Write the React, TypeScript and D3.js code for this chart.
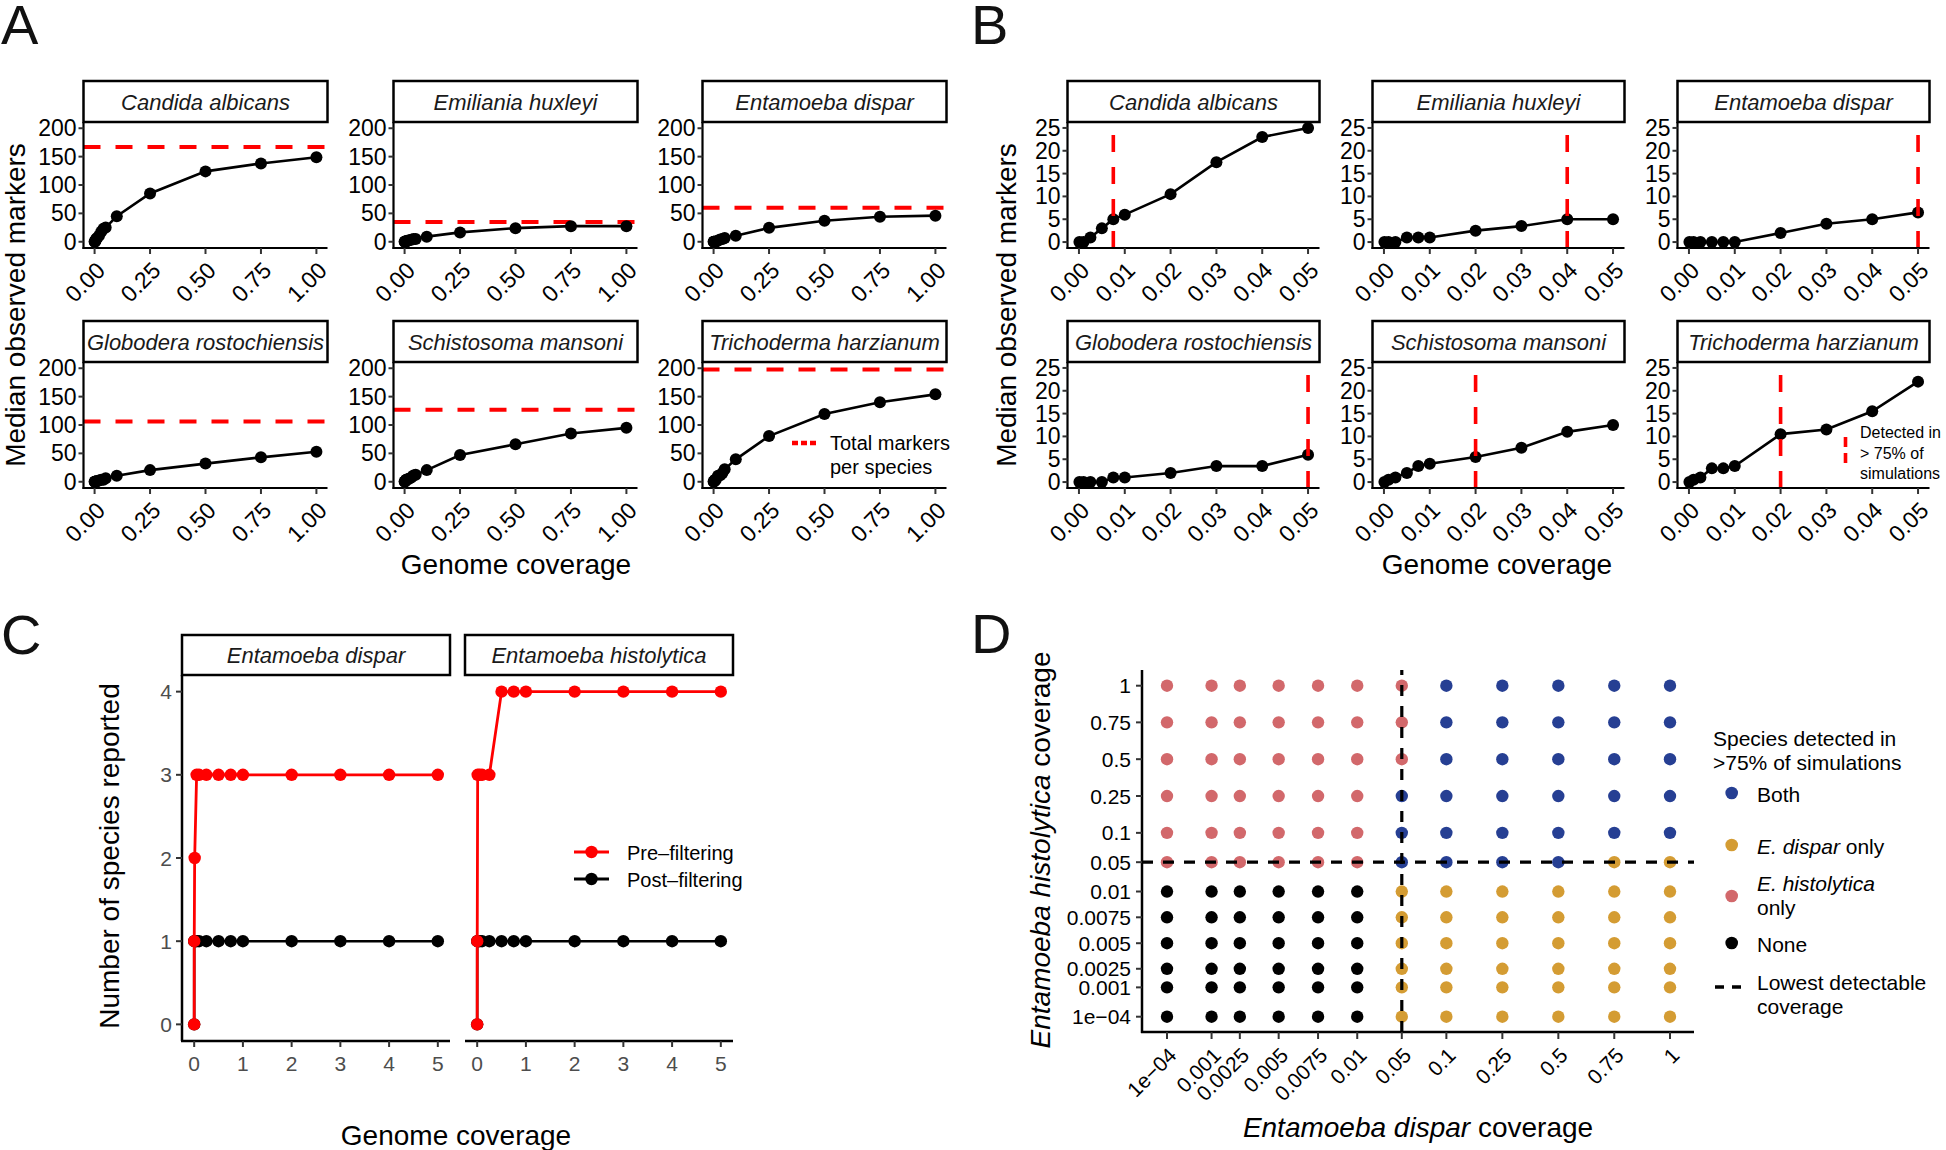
import React from "react";
import * as d3 from "d3";

const FONT = "'Liberation Sans', Arial, Helvetica, sans-serif";

// ---------- Panels A & B data ----------
const speciesNames = [
  "Candida albicans",
  "Emiliania huxleyi",
  "Entamoeba dispar",
  "Globodera rostochiensis",
  "Schistosoma mansoni",
  "Trichoderma harzianum",
];
const coverageLevels = [0.0001, 0.001, 0.0025, 0.005, 0.0075, 0.01, 0.02, 0.03, 0.04, 0.05, 0.1, 0.25, 0.5, 0.75, 1];
const candidaMarkers = [0, 0, 1, 3, 5, 6, 10.5, 17.5, 23, 25, 45, 85, 124, 138, 149];
const emilianiaMarkers = [0, 0, 0, 1, 1, 1, 2.5, 3.5, 5, 5, 9, 16.5, 24, 27.5, 27.5];
const disparMarkers = [0, 0, 0, 0, 0, 0, 2, 4, 5, 6.5, 10.5, 24.5, 37, 44, 46];
const globoderaMarkers = [0, 0, 0, 0, 1, 1, 2, 3.5, 3.5, 6, 10.5, 20.5, 32, 43, 53];
const schistosomaMarkers = [0, 0.5, 1, 2, 3.5, 4, 5.5, 7.5, 11, 12.5, 20.5, 47, 66, 85, 95];
const trichodermaMarkers = [0, 0.5, 1, 3, 3, 3.5, 10.5, 11.5, 15.5, 22, 39.5, 80.5, 119.5, 140, 154];
const markersBySpecies = [candidaMarkers, emilianiaMarkers, disparMarkers, globoderaMarkers, schistosomaMarkers, trichodermaMarkers];
const totalMarkers = [167, 35, 60, 106, 127, 198];
const detectionCoverage = [0.0075, 0.04, 0.05, 0.05, 0.02, 0.02];

const aYTicks = [0, 50, 100, 150, 200];
const aXTicks = [0, 0.25, 0.5, 0.75, 1];
const aXTickLabels = ["0.00", "0.25", "0.50", "0.75", "1.00"];
const bYTicks = [0, 5, 10, 15, 20, 25];
const bXTicks = [0, 0.01, 0.02, 0.03, 0.04, 0.05];
const bXTickLabels = ["0.00", "0.01", "0.02", "0.03", "0.04", "0.05"];

// ---------- Panel C data ----------
const cSpecies = ["Entamoeba dispar", "Entamoeba histolytica"];
const cCoverage = [0, 0.001, 0.01, 0.05, 0.1, 0.25, 0.5, 0.75, 1, 2, 3, 4, 5];
const cPreDispar = [0, 1, 2, 3, 3, 3, 3, 3, 3, 3, 3, 3, 3];
const cPostDispar = [0, 1, 1, 1, 1, 1, 1, 1, 1, 1, 1, 1, 1];
const cPreHisto = [0, 1, 3, 3, 3, 3, 4, 4, 4, 4, 4, 4, 4];
const cPostHisto = [0, 1, 1, 1, 1, 1, 1, 1, 1, 1, 1, 1, 1];
const cXTicks = [0, 1, 2, 3, 4, 5];
const cYTicks = [0, 1, 2, 3, 4];
const cSeriesNames = ["Pre\u2013filtering", "Post\u2013filtering"];

// ---------- Panel D data ----------
const dLevels = [0.0001, 0.001, 0.0025, 0.005, 0.0075, 0.01, 0.05, 0.1, 0.25, 0.5, 0.75, 1];
const dLevelLabels = ["1e\u221204", "0.001", "0.0025", "0.005", "0.0075", "0.01", "0.05", "0.1", "0.25", "0.5", "0.75", "1"];
// one string per E. histolytica level (from 1e-04 up); one char per E. dispar level
const dStatusRows = [
  "NNNNNNDDDDDD",
  "NNNNNNDDDDDD",
  "NNNNNNDDDDDD",
  "NNNNNNDDDDDD",
  "NNNNNNDDDDDD",
  "NNNNNNDDDDDD",
  "HHHHHHBBBBDD",
  "HHHHHHBBBBBB",
  "HHHHHHBBBBBB",
  "HHHHHHHBBBBB",
  "HHHHHHHBBBBB",
  "HHHHHHHBBBBB",
];
const dLowestDetectable = 0.05;

// ---------- layout / style ----------
const RED = "#FF0000";
const statusColor: Record<string, string> = { B: "#263F93", D: "#D49C33", H: "#D2686B", N: "#000000" };
// axis position fractions of the custom coverage axis in panel D
const dAxisFrac = [0, 0.0886, 0.1448, 0.222, 0.3003, 0.3782, 0.4668, 0.5554, 0.6667, 0.778, 0.8892, 1];

type LPProps = {
  left: number; top: number; width: number; height: number; name: string;
  xs: number[]; ys: number[]; xDomain: [number, number]; yDomain: [number, number];
  xTicks: number[]; xTickLabels: string[]; yTicks: number[];
  hline?: number; vline?: number;
};

function LinePanel(p: LPProps) {
  const x = d3.scaleLinear().domain(p.xDomain).range([p.left, p.left + p.width]);
  const y = d3.scaleLinear().domain(p.yDomain).range([p.top + p.height, p.top]);
  const pts = p.xs.map((v, i) => [v, p.ys[i]] as [number, number]).filter((d) => d[0] <= p.xDomain[1]);
  const line = d3.line<[number, number]>().x((d) => x(d[0])).y((d) => y(d[1]));
  const bottom = p.top + p.height;
  return (
    <g>
      <rect x={p.left} y={p.top - 41} width={p.width} height={41} fill="white" stroke="black" strokeWidth={2.5} />
      <text x={p.left + p.width / 2} y={p.top - 20} textAnchor="middle" dominantBaseline="central"
        fontStyle="italic" fontSize={22} fill="#1a1a1a">{p.name}</text>
      {p.hline != null && (
        <line x1={p.left} x2={p.left + p.width} y1={y(p.hline)} y2={y(p.hline)} stroke={RED} strokeWidth={4} strokeDasharray="17 15" />
      )}
      <path d={line(pts) || ""} fill="none" stroke="black" strokeWidth={2.6} />
      {pts.map((d, i) => (
        <circle key={i} cx={x(d[0])} cy={y(d[1])} r={6} fill="black" />
      ))}
      {p.vline != null && (
        <line x1={x(p.vline)} x2={x(p.vline)} y1={bottom} y2={p.top} stroke={RED} strokeWidth={3.6} strokeDasharray="17 15" />
      )}
      <line x1={p.left} x2={p.left} y1={p.top} y2={bottom + 1} stroke="black" strokeWidth={2.2} />
      <line x1={p.left - 1} x2={p.left + p.width} y1={bottom} y2={bottom} stroke="black" strokeWidth={2.2} />
      {p.yTicks.map((t) => (
        <g key={t}>
          <line x1={p.left - 5} x2={p.left} y1={y(t)} y2={y(t)} stroke="#333" strokeWidth={2} />
          <text x={p.left - 7} y={y(t)} textAnchor="end" dominantBaseline="central" fontSize={23} fill="black">{t}</text>
        </g>
      ))}
      {p.xTicks.map((t, i) => (
        <g key={t}>
          <line x1={x(t)} x2={x(t)} y1={bottom} y2={bottom + 6} stroke="#333" strokeWidth={2} />
          <text transform={`translate(${x(t)},${bottom + 12}) rotate(-45)`} textAnchor="end" dominantBaseline="hanging"
            fontSize={23} fill="black">{p.xTickLabels[i]}</text>
        </g>
      ))}
    </g>
  );
}

type CPProps = { left: number; width: number; name: string; pre: number[]; post: number[]; showY: boolean };
const C_TOP = 675;
const C_BOTTOM = 1041;

function CPanel(p: CPProps) {
  const x = d3.scaleLinear().domain([-0.25, 5.25]).range([p.left, p.left + p.width]);
  const y = d3.scaleLinear().domain([-0.2, 4.2]).range([C_BOTTOM, C_TOP]);
  const line = d3.line<number>().x((_, i) => x(cCoverage[i])).y((d) => y(d));
  return (
    <g>
      <rect x={p.left} y={635} width={p.width} height={40} fill="white" stroke="black" strokeWidth={2.5} />
      <text x={p.left + p.width / 2} y={655} textAnchor="middle" dominantBaseline="central" fontStyle="italic" fontSize={22} fill="#1a1a1a">{p.name}</text>
      <path d={line(p.post) || ""} fill="none" stroke="black" strokeWidth={2.6} />
      {p.post.map((d, i) => <circle key={"b" + i} cx={x(cCoverage[i])} cy={y(d)} r={6.2} fill="black" />)}
      <path d={line(p.pre) || ""} fill="none" stroke={RED} strokeWidth={2.8} />
      {p.pre.map((d, i) => <circle key={"r" + i} cx={x(cCoverage[i])} cy={y(d)} r={6.2} fill={RED} />)}
      {p.showY && <line x1={p.left} x2={p.left} y1={C_TOP} y2={C_BOTTOM} stroke="black" strokeWidth={2.5} />}
      <line x1={p.left - (p.showY ? 1 : 0)} x2={p.left + p.width} y1={C_BOTTOM} y2={C_BOTTOM} stroke="black" strokeWidth={2.5} />
      {p.showY && cYTicks.map((t) => (
        <g key={t}>
          <line x1={p.left - 6} x2={p.left} y1={y(t)} y2={y(t)} stroke="#333" strokeWidth={2} />
          <text x={p.left - 10} y={y(t)} textAnchor="end" dominantBaseline="central" fontSize={21} fill="#4D4D4D">{t}</text>
        </g>
      ))}
      {cXTicks.map((t) => (
        <g key={t}>
          <line x1={x(t)} x2={x(t)} y1={C_BOTTOM} y2={C_BOTTOM + 6} stroke="#333" strokeWidth={2} />
          <text x={x(t)} y={C_BOTTOM + 22} textAnchor="middle" dominantBaseline="central" fontSize={21} fill="#4D4D4D">{t}</text>
        </g>
      ))}
    </g>
  );
}

function PanelD() {
  const left = 1142, right = 1694, top = 670, bottom = 1032;
  const x = d3.scaleLinear().domain(dLevels).range(dAxisFrac.map((f) => 1167 + f * (1670 - 1167)));
  const y = d3.scaleLinear().domain(dLevels).range(dAxisFrac.map((f) => 1016.7 - f * (1016.7 - 685.7)));
  const cells: { xv: number; yv: number; s: string }[] = [];
  dStatusRows.forEach((row, yi) => {
    row.split("").forEach((s, xi) => cells.push({ xv: dLevels[xi], yv: dLevels[yi], s }));
  });
  const legendItems = [
    { key: "B", y: 793, lines: [[{ t: "Both", i: false }]] },
    { key: "D", y: 845, lines: [[{ t: "E. dispar", i: true }, { t: " only", i: false }]] },
    { key: "H", y: 896, lines: [[{ t: "E. histolytica", i: true }], [{ t: "only", i: false }]] },
    { key: "N", y: 943, lines: [[{ t: "None", i: false }]] },
  ];
  return (
    <g>
      {cells.map((c, i) => (
        <circle key={i} cx={x(c.xv)} cy={y(c.yv)} r={6.2} fill={statusColor[c.s]} />
      ))}
      <line x1={x(dLowestDetectable)} x2={x(dLowestDetectable)} y1={bottom} y2={top} stroke="black" strokeWidth={3.2} strokeDasharray="11 10" />
      <line x1={left} x2={right} y1={y(dLowestDetectable)} y2={y(dLowestDetectable)} stroke="black" strokeWidth={3.2} strokeDasharray="11 10" />
      <line x1={left} x2={left} y1={top} y2={bottom + 1} stroke="black" strokeWidth={2.5} />
      <line x1={left - 1} x2={right} y1={bottom} y2={bottom} stroke="black" strokeWidth={2.5} />
      {dLevels.map((v, i) => (
        <g key={"y" + i}>
          <line x1={left - 6} x2={left} y1={y(v)} y2={y(v)} stroke="#333" strokeWidth={2} />
          <text x={left - 11} y={y(v)} textAnchor="end" dominantBaseline="central" fontSize={21} fill="black">{dLevelLabels[i]}</text>
        </g>
      ))}
      {dLevels.map((v, i) => (
        <g key={"x" + i}>
          <line x1={x(v)} x2={x(v)} y1={bottom} y2={bottom + 7} stroke="#333" strokeWidth={2} />
          <text transform={`translate(${x(v)},${bottom + 14}) rotate(-45)`} textAnchor="end" dominantBaseline="hanging" fontSize={21} fill="black">{dLevelLabels[i]}</text>
        </g>
      ))}
      <text transform={`translate(1040,850) rotate(-90)`} textAnchor="middle" dominantBaseline="central" fontSize={28} fill="black">
        <tspan fontStyle="italic">Entamoeba histolytica</tspan>
        <tspan> coverage</tspan>
      </text>
      <text x={1418} y={1127} textAnchor="middle" dominantBaseline="central" fontSize={28} fill="black">
        <tspan fontStyle="italic">Entamoeba dispar</tspan>
        <tspan> coverage</tspan>
      </text>
      {/* legend */}
      <text x={1713} y={738} dominantBaseline="central" fontSize={21} fill="black">Species detected in</text>
      <text x={1713} y={762} dominantBaseline="central" fontSize={21} fill="black">&gt;75% of simulations</text>
      {legendItems.map((it) => (
        <g key={it.key}>
          <circle cx={1731.7} cy={it.y} r={6.3} fill={statusColor[it.key]} />
          {it.lines.map((ln, li) => (
            <text key={li} x={1757} y={it.y + (it.lines.length > 1 ? (li === 0 ? -13 : 11) : 1)} dominantBaseline="central" fontSize={21} fill="black">
              {ln.map((s, si) => <tspan key={si} fontStyle={s.i ? "italic" : "normal"}>{s.t}</tspan>)}
            </text>
          ))}
        </g>
      ))}
      <line x1={1715} x2={1741} y1={987} y2={987} stroke="black" strokeWidth={3.5} strokeDasharray="9 8" />
      <text x={1757} y={982} dominantBaseline="central" fontSize={21} fill="black">Lowest detectable</text>
      <text x={1757} y={1006} dominantBaseline="central" fontSize={21} fill="black">coverage</text>
    </g>
  );
}

export default function App() {
  const aCols = [83.5, 393.5, 702.5];
  const bCols = [1067.5, 1372.5, 1677.5];
  const rowTops = [122, 362];
  const panelH = 126;
  return (
    <svg width={1946} height={1150} viewBox="0 0 1946 1150" fontFamily={FONT}
      style={{ position: "absolute", left: 0, top: 0, background: "white" }}>
      <rect x={0} y={0} width={1946} height={1150} fill="white" />
      {/* panel labels */}
      <text x={1} y={44} fontSize={56} fill="#111">A</text>
      <text x={971} y={44} fontSize={56} fill="#111">B</text>
      <text x={1} y={654} fontSize={56} fill="#111">C</text>
      <text x={971} y={653} fontSize={56} fill="#111">D</text>

      {/* Panel A */}
      {speciesNames.map((name, i) => (
        <LinePanel key={"a" + i} left={aCols[i % 3]} top={rowTops[Math.floor(i / 3)]} width={244} height={panelH}
          name={name} xs={coverageLevels} ys={markersBySpecies[i]} xDomain={[-0.05, 1.05]} yDomain={[-11, 211]}
          xTicks={aXTicks} xTickLabels={aXTickLabels} yTicks={aYTicks} hline={totalMarkers[i]} />
      ))}
      <text transform="translate(15,305) rotate(-90)" textAnchor="middle" dominantBaseline="central" fontSize={28}>Median observed markers</text>
      <text x={516} y={564} textAnchor="middle" dominantBaseline="central" fontSize={28}>Genome coverage</text>
      <line x1={792} x2={816} y1={443} y2={443} stroke={RED} strokeWidth={4.5} strokeDasharray="6 3" />
      <text x={830} y={443} dominantBaseline="central" fontSize={20}>Total markers</text>
      <text x={830} y={467} dominantBaseline="central" fontSize={20}>per species</text>

      {/* Panel B */}
      {speciesNames.map((name, i) => (
        <LinePanel key={"b" + i} left={bCols[i % 3]} top={rowTops[Math.floor(i / 3)]} width={252} height={panelH}
          name={name} xs={coverageLevels} ys={markersBySpecies[i]} xDomain={[-0.0025, 0.0525]} yDomain={[-1.3, 26.3]}
          xTicks={bXTicks} xTickLabels={bXTickLabels} yTicks={bYTicks} vline={detectionCoverage[i]} />
      ))}
      <text transform="translate(1006,305) rotate(-90)" textAnchor="middle" dominantBaseline="central" fontSize={28}>Median observed markers</text>
      <text x={1497} y={564} textAnchor="middle" dominantBaseline="central" fontSize={28}>Genome coverage</text>
      <line x1={1845.5} x2={1845.5} y1={437} y2={469} stroke={RED} strokeWidth={3.6} strokeDasharray="10 6" />
      <text x={1860} y={432} dominantBaseline="central" fontSize={16}>Detected in</text>
      <text x={1860} y={453} dominantBaseline="central" fontSize={16}>&gt; 75% of</text>
      <text x={1860} y={473} dominantBaseline="central" fontSize={16}>simulations</text>

      {/* Panel C */}
      <CPanel left={182} width={268} name={cSpecies[0]} pre={cPreDispar} post={cPostDispar} showY={true} />
      <CPanel left={465} width={268} name={cSpecies[1]} pre={cPreHisto} post={cPostHisto} showY={false} />
      <text transform="translate(109,856) rotate(-90)" textAnchor="middle" dominantBaseline="central" fontSize={28}>Number of species reported</text>
      <text x={456} y={1135} textAnchor="middle" dominantBaseline="central" fontSize={28}>Genome coverage</text>
      <line x1={574} x2={609} y1={852} y2={852} stroke={RED} strokeWidth={2.8} />
      <circle cx={591.5} cy={852} r={6.2} fill={RED} />
      <text x={627} y={853} dominantBaseline="central" fontSize={20}>{cSeriesNames[0]}</text>
      <line x1={574} x2={609} y1={879} y2={879} stroke="black" strokeWidth={2.8} />
      <circle cx={591.5} cy={879} r={6.2} fill="black" />
      <text x={627} y={880} dominantBaseline="central" fontSize={20}>{cSeriesNames[1]}</text>

      {/* Panel D */}
      <PanelD />
    </svg>
  );
}
